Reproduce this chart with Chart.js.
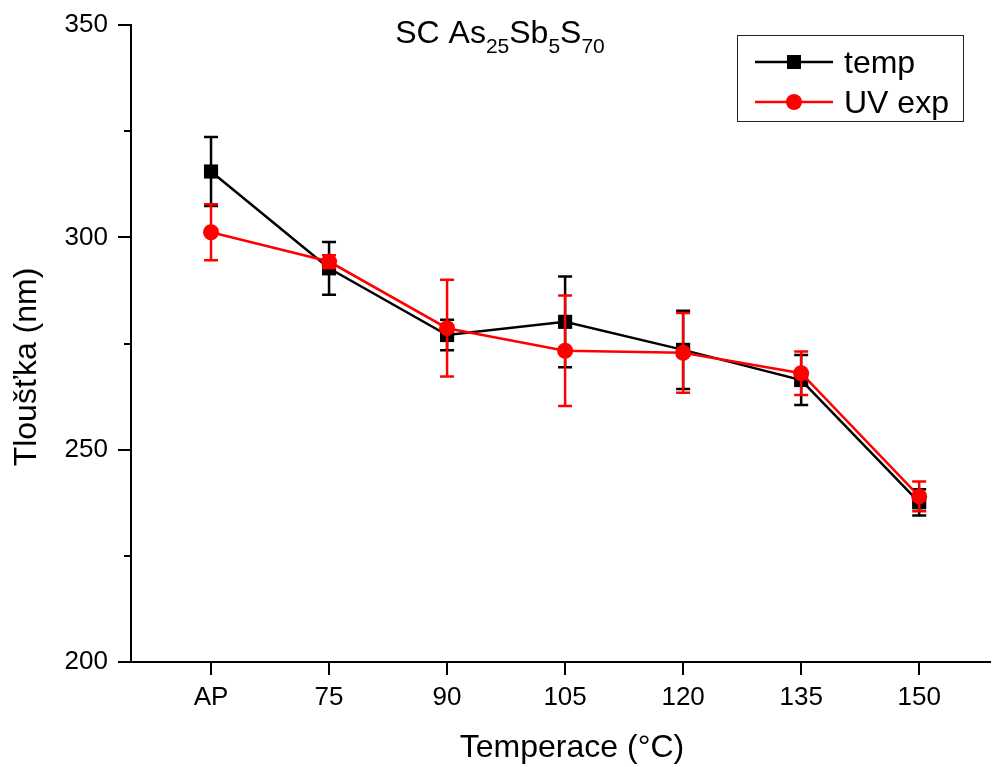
<!DOCTYPE html>
<html>
<head>
<meta charset="utf-8">
<script src="https://cdn.jsdelivr.net/npm/chart.js@4/dist/chart.umd.min.js"></script>
<style>
html,body{margin:0;padding:0;background:#fff;}
canvas{display:block;}
</style>
</head>
<body>
<canvas id="c" width="994" height="767"></canvas>
<script>
const categories = ['AP', '75', '90', '105', '120', '135', '150'];
const tempVals = [315.5, 292.7, 277.0, 280.1, 273.5, 266.4, 237.6];
const tempErr  = [8.1, 6.2, 3.6, 10.7, 9.2, 5.9, 3.1];
const uvVals   = [301.2, 294.3, 278.6, 273.3, 272.8, 268.0, 239.0];
const uvErr    = [6.6, 1.5, 11.4, 13.0, 9.4, 5.1, 3.5];
const yMajorTicks = [200, 250, 300, 350];
const yMinorTicks = [225, 275, 325];
const seriesNames = ['temp', 'UV exp'];
const titleParts = [['SC As', false], ['25', true], ['Sb', false], ['5', true], ['S', false], ['70', true]];
const xTitle = 'Temperace (°C)';
const yTitle = 'Tloušťka (nm)';

const FONT = '"Liberation Sans", Arial, sans-serif';
const errs = [tempErr, uvErr];

const errorBars = {
  id: 'errorBars',
  beforeDatasetDraw(chart, args) {
    const ds = chart.data.datasets[args.index];
    const e = errs[ds.errIndex];
    const vals = ds.data;
    const xs = chart.scales.x, ys = chart.scales.y;
    const ctx = chart.ctx;
    ctx.save();
    ctx.strokeStyle = ds.borderColor;
    ctx.lineWidth = 2.5;
    vals.forEach((p, i) => {
      const x = xs.getPixelForValue(p.x);
      const yt = ys.getPixelForValue(p.y + e[i]);
      const yb = ys.getPixelForValue(p.y - e[i]);
      ctx.beginPath();
      ctx.moveTo(x, yt); ctx.lineTo(x, yb);
      ctx.moveTo(x - 7, yt); ctx.lineTo(x + 7, yt);
      ctx.moveTo(x - 7, yb); ctx.lineTo(x + 7, yb);
      ctx.stroke();
    });
    ctx.restore();
  }
};

const decor = {
  id: 'decor',
  afterDraw(chart) {
    const ctx = chart.ctx;
    const xs = chart.scales.x, ys = chart.scales.y;
    const ca = chart.chartArea;
    ctx.save();
    // tick marks
    ctx.strokeStyle = '#000';
    ctx.lineWidth = 2;
    ctx.beginPath();
    yMajorTicks.forEach(v => {
      const y = Math.round(ys.getPixelForValue(v));
      ctx.moveTo(ca.left - 13, y); ctx.lineTo(ca.left, y);
    });
    yMinorTicks.forEach(v => {
      const y = Math.round(ys.getPixelForValue(v));
      ctx.moveTo(ca.left - 7, y); ctx.lineTo(ca.left, y);
    });
    categories.forEach((c, i) => {
      const x = Math.round(xs.getPixelForValue(i));
      ctx.moveTo(x, ca.bottom); ctx.lineTo(x, ca.bottom + 13);
    });
    ctx.stroke();

    // title with subscripts
    ctx.fillStyle = '#000';
    ctx.textBaseline = 'alphabetic';
    ctx.textAlign = 'left';
    let total = 0;
    titleParts.forEach(([t, sub]) => {
      ctx.font = (sub ? 21 : 32) + 'px ' + FONT;
      total += ctx.measureText(t).width;
    });
    let tx = 500 - total / 2;
    titleParts.forEach(([t, sub]) => {
      ctx.font = (sub ? 21 : 32) + 'px ' + FONT;
      ctx.fillText(t, tx, sub ? 53 : 43);
      tx += ctx.measureText(t).width;
    });

    // axis titles
    ctx.font = '32px ' + FONT;
    ctx.textAlign = 'center';
    ctx.fillText(xTitle, 572, 757);
    ctx.save();
    ctx.translate(36, 367);
    ctx.rotate(-Math.PI / 2);
    ctx.fillText(yTitle, 0, 0);
    ctx.restore();

    // legend
    ctx.lineWidth = 1;
    ctx.strokeStyle = '#222';
    ctx.strokeRect(737.5, 35.5, 226, 86);
    const ly = [62, 102];
    const dsets = [chart.data.datasets[1], chart.data.datasets[0]];
    dsets.forEach((ds, k) => {
      const y = ly[k];
      ctx.strokeStyle = ds.borderColor;
      ctx.lineWidth = 2.5;
      ctx.beginPath();
      ctx.moveTo(755, y); ctx.lineTo(833, y);
      ctx.stroke();
      ctx.fillStyle = ds.borderColor;
      if (ds.pointStyle === 'rect') {
        ctx.fillRect(794 - 7, y - 7, 14, 14);
      } else {
        ctx.beginPath();
        ctx.arc(794, y, 8, 0, Math.PI * 2);
        ctx.fill();
      }
      ctx.fillStyle = '#000';
      ctx.textAlign = 'left';
      ctx.font = '32px ' + FONT;
      ctx.fillText(seriesNames[k], 844, y + 11);
    });
    ctx.restore();
  }
};

const toPts = arr => arr.map((v, i) => ({x: i, y: v}));

new Chart(document.getElementById('c'), {
  type: 'line',
  data: {
    datasets: [
      {
        label: seriesNames[1], errIndex: 1, order: 0,
        data: toPts(uvVals),
        borderColor: '#ff0000', backgroundColor: '#ff0000',
        borderWidth: 2.5, pointStyle: 'circle', pointRadius: 8, pointBorderWidth: 0,
        tension: 0, clip: false
      },
      {
        label: seriesNames[0], errIndex: 0, order: 1,
        data: toPts(tempVals),
        borderColor: '#000000', backgroundColor: '#000000',
        borderWidth: 2.5, pointStyle: 'rect', pointRadius: 10, pointBorderWidth: 0,
        tension: 0, clip: false
      }
    ]
  },
  options: {
    responsive: false,
    animation: false,
    devicePixelRatio: 1,
    layout: {autoPadding: false, padding: {top: 25, right: 4, left: 0, bottom: 0}},
    plugins: {legend: {display: false}, title: {display: false}, tooltip: {enabled: false}},
    scales: {
      x: {
        type: 'linear', min: -0.678, max: 6.6,
        grid: {display: false},
        border: {display: true, color: '#000', width: 2},
        afterBuildTicks: s => { s.ticks = categories.map((c, i) => ({value: i})); },
        afterFit: s => { s.height = 105; s.paddingLeft = 0; s.paddingRight = 0; },
        ticks: {
          callback: v => categories[v],
          font: {size: 26, family: FONT}, color: '#000',
          padding: 12, maxRotation: 0, autoSkip: false
        }
      },
      y: {
        min: 200, max: 350,
        grid: {display: false},
        border: {display: true, color: '#000', width: 2},
        afterBuildTicks: s => { s.ticks = yMajorTicks.map(v => ({value: v})); },
        afterFit: s => { s.width = 131; s.paddingTop = 0; s.paddingBottom = 0; },
        ticks: {
          font: {size: 26, family: FONT}, color: '#000', padding: 15
        }
      }
    }
  },
  plugins: [errorBars, decor]
});
</script>
</body>
</html>
